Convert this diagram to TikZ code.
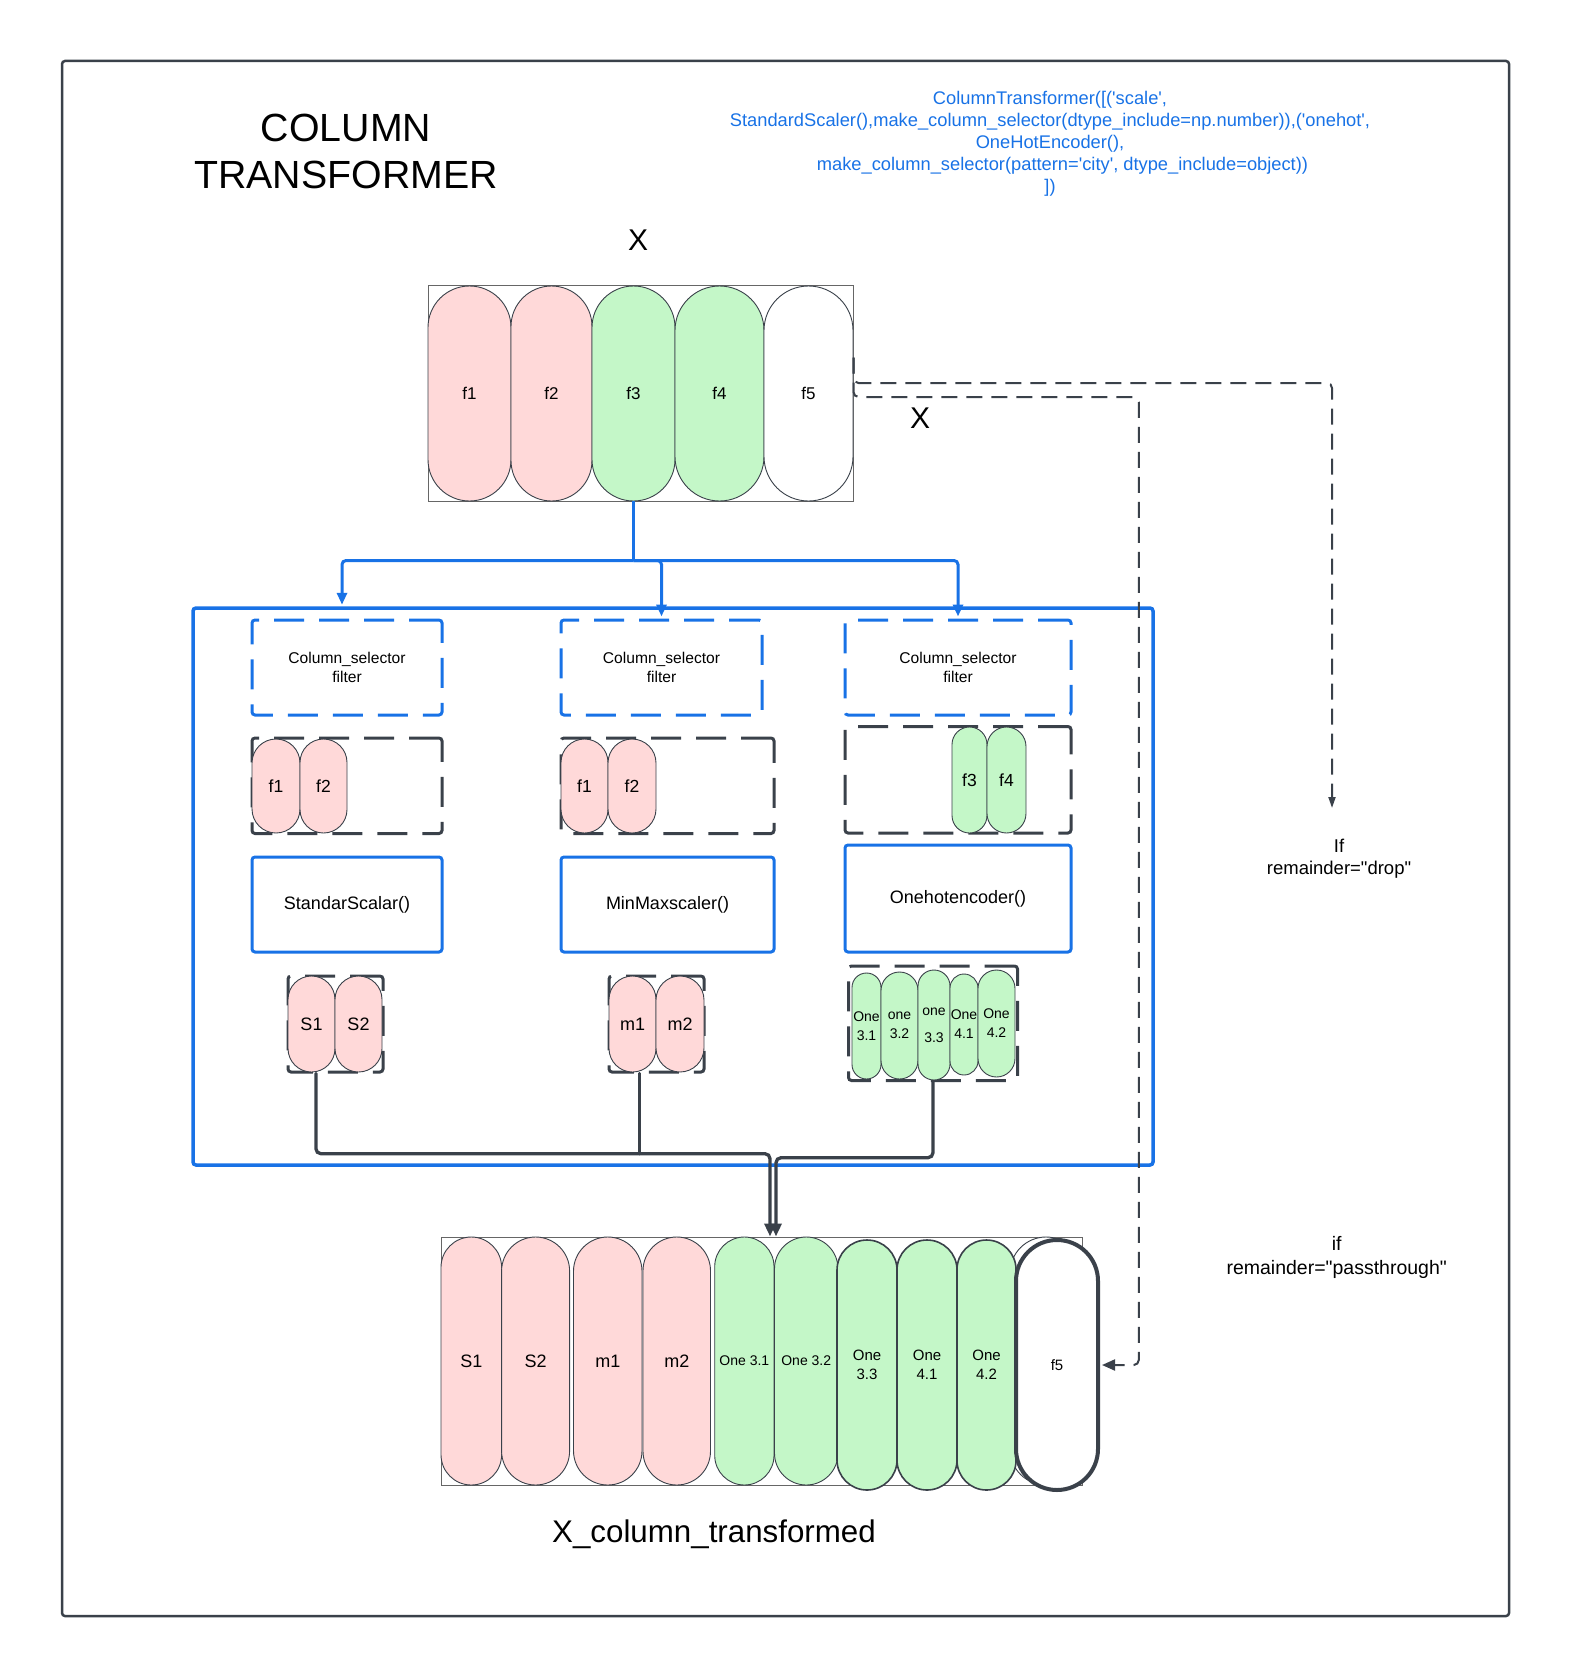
\documentclass[tikz,border=0pt]{standalone}
\usepackage{fontspec}
\setmainfont{Liberation Sans}[Ligatures=TeXOff]
\usetikzlibrary{arrows.meta,calc}
\definecolor{lblue}{RGB}{24,114,230}
\definecolor{dgray}{RGB}{58,65,74}
\definecolor{pinkf}{RGB}{255,217,217}
\definecolor{greenf}{RGB}{196,247,200}
\newcommand\fsz[2]{\fontsize{#1pt}{#2pt}\selectfont}
\tikzset{
  pillbase/.style={draw=dgray, line width=0.9pt, inner sep=0pt, align=center},
  pk/.style={pillbase, fill=pinkf},
  gr/.style={pillbase, fill=greenf},
  wh/.style={pillbase, fill=white},
  pw/.style n args={2}{minimum width=#1pt, minimum height=#2pt, rounded corners={#1pt/2}},
  sz/.style n args={2}{minimum width=#1pt, minimum height=#2pt},
  dbox/.style={draw=dgray, line width=3pt, dash pattern=on 30pt off 15pt, rounded corners=3pt, inner sep=0pt},
  bdbox/.style={draw=lblue, line width=3pt, dash pattern=on 30pt off 15pt, rounded corners=3pt, align=center, inner sep=0pt},
  bbox/.style={draw=lblue, line width=3pt, rounded corners=3pt, inner sep=0pt},
  bline/.style={draw=lblue, line width=3pt},
  barrow/.style={-{Triangle[length=12pt,width=10pt]}},
  dline/.style={draw=dgray, line width=3.3pt, line cap=round},
  darrow/.style={-{Triangle[length=13pt,width=11pt]}},
  dashln/.style={draw=dgray, line width=2pt, dash pattern=on 16pt off 9pt},
  txt/.style={inner sep=0pt, align=center},
}
\begin{document}
\begin{tikzpicture}[x=1pt,y=-1pt]
\useasboundingbox (0,0) rectangle (1573,1680);
% outer frame
\node[draw=dgray, line width=2.5pt, rounded corners=3pt, sz={1447}{1555}, inner sep=0pt] (frame) at (785.5,838.5) {};

% titles and texts
\node[txt, font=\fsz{39.3}{47}] (title) at (346,151) {COLUMN\\TRANSFORMER};
\node[txt, text=lblue, font=\fsz{18.3}{22}] (code) at (1050,143.5)
 {ColumnTransformer([('scale',\\
  StandardScaler(),make\_column\_selector(dtype\_include=np.number)),('onehot',\\
  OneHotEncoder(),\\
  \hspace*{25pt}make\_column\_selector(pattern='city', dtype\_include=object))\\
  ])};
\node[txt, font=\fsz{30}{36}] (xlab) at (638,240) {X};
\node[txt, font=\fsz{30}{36}] (xlab2) at (920,418) {X};

% input box
\node[draw=gray!80!black, line width=1pt, sz={425}{215.5}, inner sep=0pt] (inbox) at (640.5,393.25) {};
\node[pk, pw={83}{215}, font=\fsz{17}{20}] (f1) at (469.5,393.5) {f1};
\node[pk, pw={81}{215}, font=\fsz{17}{20}] (f2) at (551.5,393.5) {f2};
\node[gr, pw={83}{215}, font=\fsz{17}{20}] (f3) at (633.5,393.5) {f3};
\node[gr, pw={89}{215}, font=\fsz{17}{20}] (f4) at (719.5,393.5) {f4};
\node[wh, pw={89}{215}, font=\fsz{17}{20}] (f5) at (808.5,393.5) {f5};

% big blue box
\node[bbox, line width=3.5pt, sz={960}{557}] (bigbox) at (673,886.5) {};

% selector boxes
\node[bdbox, sz={190}{95}, font=\fsz{15.6}{19}] (sel1) at (347,667.5) {Column\_selector\\filter};
\node[bdbox, sz={201}{95}, font=\fsz{15.6}{19}] (sel2) at (661.5,667.5) {Column\_selector\\filter};
\node[bdbox, sz={226}{95}, font=\fsz{15.6}{19}] (sel3) at (958,667.5) {Column\_selector\\filter};

% selected feature boxes
\node[dbox, sz={190}{95.5}] (d1) at (347,785.75) {};
\node[dbox, sz={213}{95.5}] (d2) at (667.5,785.75) {};
\node[dbox, sz={226}{106.5}] (d3) at (958,779.75) {};
\node[pk, pw={48}{94}, font=\fsz{17.5}{20}] (d1f1) at (276,786) {f1};
\node[pk, pw={47}{94}, font=\fsz{17.5}{20}] (d1f2) at (323.5,786) {f2};
\node[pk, pw={47}{94}, font=\fsz{17.5}{20}] (d2f1) at (584.5,786) {f1};
\node[pk, pw={48}{94}, font=\fsz{17.5}{20}] (d2f2) at (632,786) {f2};
\node[gr, pw={35}{106}, font=\fsz{17.5}{20}] (d3f3) at (969.5,780) {f3};
\node[gr, pw={39}{106}, font=\fsz{17.5}{20}] (d3f4) at (1006.5,780) {f4};

% transformer boxes
\node[bbox, sz={190}{95}, font=\fsz{18}{22}] (t1) at (347,904.5) {StandarScalar()};
\node[bbox, sz={213}{95}, font=\fsz{18}{22}] (t2) at (667.5,904.5) {MinMaxscaler()};
\node[bbox, sz={226}{107}, font=\fsz{18}{22}] (t3) at (958,898.5) {Onehotencoder()};

% transformed output boxes
\node[dbox, sz={95}{96}] (o1) at (335.5,1024) {};
\node[dbox, sz={95}{96}] (o2) at (656.5,1024) {};
\node[dbox, sz={169}{114.5}] (o3) at (933,1023.25) {};
\node[pk, pw={47}{96}, font=\fsz{18}{20}] (s1) at (311.5,1024) {S1};
\node[pk, pw={47}{96}, font=\fsz{18}{20}] (s2) at (358.5,1024) {S2};
\node[pk, pw={47}{96}, font=\fsz{18}{20}] (m1) at (632.5,1024) {m1};
\node[pk, pw={48}{96}, font=\fsz{18}{20}] (m2) at (680,1024) {m2};
\node[gr, pw={29}{106}, font=\fsz{14}{19}] (e31) at (866.5,1026) {One\\3.1};
\node[gr, pw={37}{107}, font=\fsz{14}{19}] (e32) at (899.5,1025.5) {one\\3.2};
\node[gr, pw={32}{110}, font=\fsz{14}{19}] (e33) at (934,1025) {one\\[8pt]3.3};
\node[gr, pw={28}{101}, font=\fsz{14}{19}] (e41) at (964,1024.5) {One\\4.1};
\node[gr, pw={37}{107}, font=\fsz{14}{19}] (e42) at (996.5,1023.5) {One\\4.2};

% output matrix
\node[draw=gray!80!black, line width=1pt, sz={641.6}{248}, inner sep=0pt] (outbox) at (761.8,1361) {};
\node[pk, pw={60.6}{248}, font=\fsz{18}{20}] (os1) at (471.3,1361) {S1};
\node[pk, pw={68}{248}, font=\fsz{18}{20}] (os2) at (535.6,1361) {S2};
\node[pk, pw={68.5}{248}, font=\fsz{18}{20}] (om1) at (607.75,1361) {m1};
\node[pk, pw={67.5}{248}, font=\fsz{18}{20}] (om2) at (676.75,1361) {m2};
\node[gr, pw={59.3}{248}, font=\fsz{14}{19}] (oe31) at (744.35,1361) {One 3.1};
\node[gr, pw={63.5}{248}, font=\fsz{14}{19}] (oe32) at (806.25,1361) {One 3.2};
\node[gr, pw={60}{250}, line width=1.6pt, font=\fsz{15}{19}] (oe33) at (867,1365) {One\\3.3};
\node[gr, pw={60}{250}, line width=1.6pt, font=\fsz{15}{19}] (oe41) at (927,1365) {One\\4.1};
\node[wh, pw={72}{248}] (ghost) at (1046,1361) {};
\node[gr, pw={59}{250}, line width=1.6pt, font=\fsz{15}{19}] (oe42) at (986.5,1365) {One\\4.2};
\node[wh, pw={82}{250}, line width=4pt, font=\fsz{15}{19}] (f5o) at (1057,1365) {f5};

\node[txt, font=\fsz{31.3}{36}] (xct) at (714,1534) {X\_column\_transformed};
\node[txt, font=\fsz{18.5}{22}] (drop) at (1339,859) {If\\remainder="drop"};
\node[txt, font=\fsz{19.5}{23.3}] (pass) at (1336.7,1257.5) {if\\remainder="passthrough"};

% blue distribution connectors
\coordinate (jrow) at (0,560.5);
\draw[bline] (f3.south) -- (f3.south |- jrow) coordinate (jn);
\draw[bline, barrow, rounded corners=4pt, shorten >=1.5pt] (jn) -| ($(bigbox.north -| sel1.north)+(-5,0)$);
\draw[bline, barrow, rounded corners=4pt, shorten >=2pt] (jn) -| (sel2.north);
\draw[bline, barrow, rounded corners=4pt, shorten >=2pt] (jn) -| (sel3.north);

% dark merge connectors
\coordinate (p1) at ($(o1.south west)!0.3!(o1.south east)$);
\coordinate (p2) at ($(o2.south west)!0.33!(o2.south east)$);
\coordinate (hrow1) at (0,1153.7);
\coordinate (hrow2) at (0,1157.7);
\coordinate (a1) at ($(outbox.north west)+(329.5,0)$);
\coordinate (a2) at ($(outbox.north west)+(335.5,0)$);
\draw[dline, darrow, rounded corners=5pt] (p1) |- (a1 |- hrow1) -- (a1);
\draw[dline] (p2) -- (p2 |- hrow1);
\draw[dline, darrow, rounded corners=5pt] (o3.south) |- (a2 |- hrow2) -- (a2);

% remainder dashed connectors
\coordinate (xs) at ($(inbox.north east)+(0,72.5)$);
\coordinate (dr) at (1332,383);
\coordinate (pt) at (1138.8,397);
\coordinate (drend) at (1332,808);
\draw[dashln, rounded corners=5pt, -{Triangle[length=11pt,width=7pt]}] (xs) |- (dr) -- (drend);
\draw[dashln, rounded corners=5pt, -{Triangle[length=13pt,width=11pt]}, shorten >=2pt] (xs) |- (pt) |- (f5o.east);
\end{tikzpicture}
\end{document}
